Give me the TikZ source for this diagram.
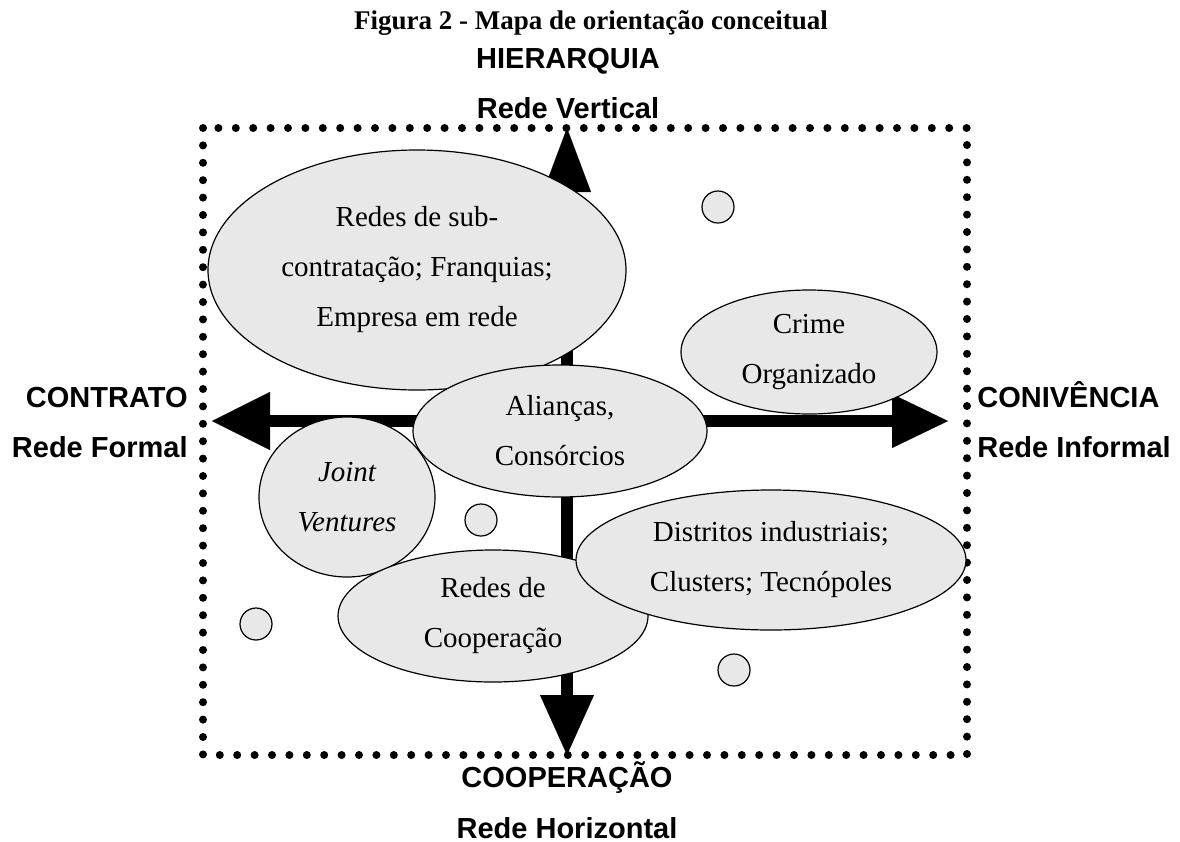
\documentclass[tikz,border=0pt]{standalone}
\usepackage{fontspec}
\setmainfont{Liberation Serif}
\setsansfont{Liberation Sans}
\usetikzlibrary{arrows.meta,shapes.geometric}
\definecolor{bubble}{RGB}{232,232,232}

\begin{document}
\begin{tikzpicture}[
  x=0.5pt,y=-0.5pt,
  blob/.style={ellipse,draw,fill=bubble,line width=0.6pt,inner sep=0pt,align=center,font=\fontsize{14.5}{25}\selectfont},
  pebble/.style={circle,draw,fill=bubble,line width=0.6pt,minimum size=16pt,inner sep=0pt},
  axis/.style={line width=6pt},
  lbl/.style={font=\sffamily\bfseries\fontsize{14.5}{17}\selectfont,inner sep=0pt},
  dotbox/.style={line width=4pt,line cap=round,dash pattern=on 0pt off 8.7pt}
]
  \useasboundingbox (0,0) rectangle (1180,842);
  % ---------------- TITLE ----------------
  \node[font=\bfseries\fontsize{13.5}{16}\selectfont,anchor=base,inner sep=0pt] (title) at (591,29) {Figura 2 - Mapa de orientação conceitual};
  % ---------------- FRAME AND AXES ----------------
  \draw[dotbox] (203,128) rectangle (967,755);
  \coordinate (ntip) at (567,128);
  \coordinate (stip) at (567,755);
  \coordinate (wtip) at (212,421);
  \coordinate (etip) at (948,421);
  \draw[axis,{Triangle[length=32pt,width=24pt,line width=0.1pt]}-{Triangle[length=30pt,width=27pt,line width=0.1pt]}] (ntip) -- (stip);
  \draw[axis,{Triangle[length=29pt,width=29pt,line width=0.1pt]}-{Triangle[length=28pt,width=27pt,line width=0.1pt]}] (wtip) -- (etip);
  % ---------------- BUBBLES ----------------
  \node[blob,minimum width=209pt,minimum height=120pt] (subcon) at (417,270) {Redes de sub-\\contratação; Franquias;\\Empresa em rede};
  \node[blob,minimum width=147pt,minimum height=66pt] (alianca) at (560,431) {Alianças,\\Consórcios};
  \node[blob,minimum width=88pt,minimum height=80pt,font=\itshape\fontsize{14.5}{25}\selectfont] (joint) at (347,497) {Joint\\Ventures};
  \node[blob,minimum width=155pt,minimum height=66pt] (coop) at (493,616) {Redes de\\Cooperação};
  \node[blob,minimum width=195pt,minimum height=70pt] (distr) at (771,560) {Distritos industriais;\\Clusters; Tecnópoles};
  \node[blob,minimum width=128pt,minimum height=62pt] (crime) at (809,352) {Crime\\Organizado};
  \foreach \id/\x/\y in {1/718/207,2/481/520,3/256/624,4/734/670}{
    \node[pebble] (p\id) at (\x,\y) {};}
  % ---------------- AXIS LABELS ----------------
  \node[lbl,anchor=base] (hier) at (568,68) {HIERARQUIA};
  \node[lbl,anchor=base] (vert) at (568,118) {Rede Vertical};
  \node[lbl,anchor=base east] (contr) at (188,407) {CONTRATO};
  \node[lbl,anchor=base east] (formal) at (188,457) {Rede Formal};
  \node[lbl,anchor=base west] (coniv) at (977,407) {CONIVÊNCIA};
  \node[lbl,anchor=base west] (inform) at (977,457) {Rede Informal};
  \node[lbl,anchor=base] (cooplbl) at (567,787) {COOPERAÇÃO};
  \node[lbl,anchor=base] (horiz) at (567,838) {Rede Horizontal};
\end{tikzpicture}
\end{document}
